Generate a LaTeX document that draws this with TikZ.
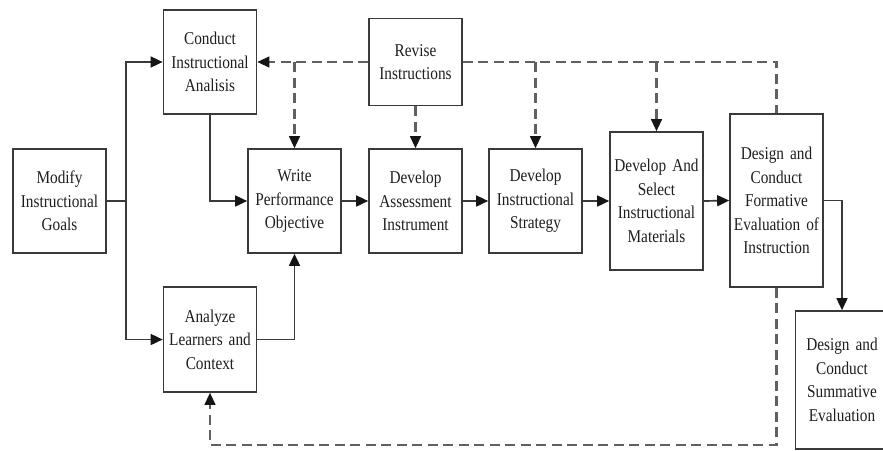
\documentclass[tikz,border=0pt]{standalone}
\usepackage{fontspec}
\setmainfont[FakeStretch=0.85]{Liberation Serif}
\usetikzlibrary{arrows.meta}
\definecolor{boxc}{HTML}{3A3A3A}
\definecolor{dashc}{HTML}{606060}
\definecolor{tipc}{HTML}{151515}
\definecolor{txtc}{HTML}{1E1E1E}
\tikzset{
  stepbox/.style={draw=boxc, line width=1.7pt, fill=white, inner sep=0pt,
    minimum width=93pt, text width=91pt, align=center, text=txtc,
    font=\fontsize{18}{23.5}\selectfont},
  arr/.style={draw=boxc, line width=1.7pt, -{Triangle[length=12pt,width=11pt,fill=tipc,color=tipc]}},
  sline/.style={draw=boxc, line width=1.7pt},
  darr/.style={draw=dashc, line width=2.1pt, dash pattern=on 10pt off 5.5pt,
    -{Triangle[length=12pt,width=11pt,fill=tipc,color=tipc,line width=1.2pt]}},
  dline/.style={draw=dashc, line width=2.1pt, dash pattern=on 10pt off 5.5pt}
}
\begin{document}
\begin{tikzpicture}[x=1pt,y=-1pt]
\clip (0,0) rectangle (883,450);
\fill[white] (0,0) rectangle (883,450);
% nodes
\node[stepbox, minimum height=104pt] (goals) at (59.5,201) {Modify\\Instructional\\Goals};
\node[stepbox, minimum height=104pt] (cia) at (210,62) {Conduct\\Instructional\\Analisis};
\node[stepbox, minimum height=87pt] (rev) at (415.5,62) {Revise\\Instructions};
\node[stepbox, minimum height=104pt] (wpo) at (294.5,201) {Write\\Performance\\Objective};
\node[stepbox, minimum height=104pt] (dai) at (415.5,201) {Develop\\Assessment\\Instrument};
\node[stepbox, minimum height=104pt] (dis) at (535.5,201) {Develop\\Instructional\\Strategy};
\node[stepbox, minimum height=138pt] (dsm) at (656.5,201) {Develop And\\Select\\Instructional\\Materials};
\node[stepbox, minimum height=173pt] (dcf) at (776.5,200.5) {Design and\\Conduct\\Formative\\Evaluation of\\Instruction};
\node[stepbox, minimum height=138pt] (dcs) at (842,380) {Design and\\Conduct\\Summative\\Evaluation};
\node[stepbox, minimum height=105pt] (alc) at (210,339.5) {Analyze\\Learners and\\Context};
% helper coordinates
\coordinate (tr) at (126,201);
\coordinate (fb) at (776.5,445);
% solid connectors
\draw[sline] (goals.east) -- (tr);
\draw[arr] (tr) |- (cia.west);
\draw[arr] (tr) |- (alc.west);
\draw[arr] (cia.south) |- (wpo.west);
\draw[arr] (alc.east) -| (wpo.south);
\draw[arr] (wpo.east) -- (dai.west);
\draw[arr] (dai.east) -- (dis.west);
\draw[arr] (dis.east) -- (dsm.west);
\draw[arr] (dsm.east) -- (dcf.west);
\draw[arr] (dcf.east) -| (dcs.north);
% dashed feedback
\draw[darr] (rev.west) -- (cia.east);
\draw[darr] (wpo.north |- rev.west) -- (wpo.north);
\draw[darr] (rev.south) -- (dai.north);
\draw[dline] (rev.east) -| (dcf.north);
\draw[darr] (dis.north |- rev.east) -- (dis.north);
\draw[darr] (dsm.north |- rev.east) -- (dsm.north);
\draw[darr] (dcf.south) -- (fb) -| (alc.south);
\end{tikzpicture}
\end{document}
